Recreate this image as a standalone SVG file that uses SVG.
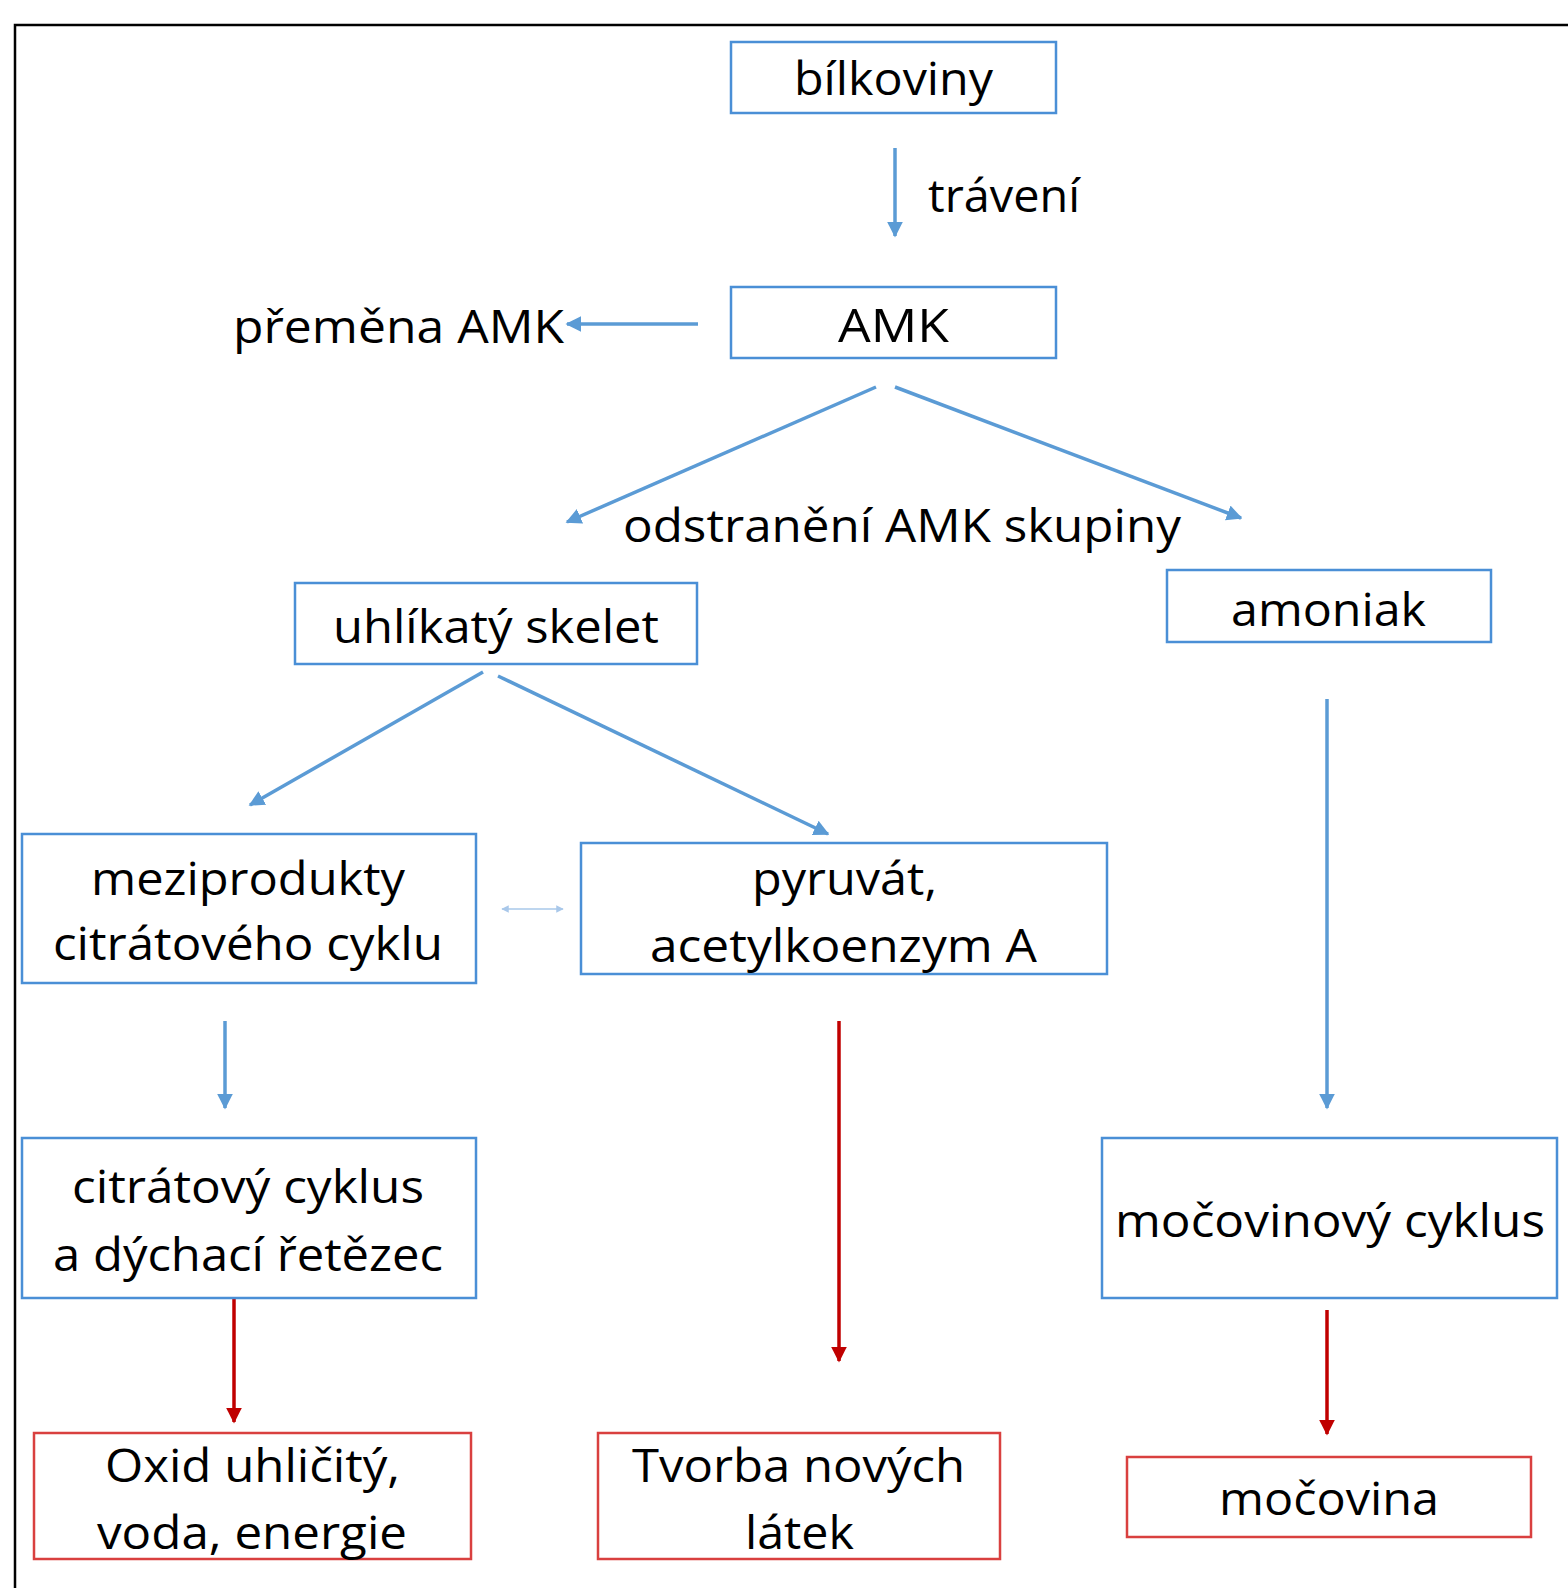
<svg xmlns="http://www.w3.org/2000/svg" width="1568" height="1588" viewBox="0 0 1568 1588">
<style>
.frame{fill:none;stroke:#000;stroke-width:2.5}
.bb{fill:#fff;stroke:#4A8FD6;stroke-width:2.5}
.rb{fill:#fff;stroke:#D9403F;stroke-width:2.5}
text{font-family:"Open Sans","Liberation Sans",sans-serif;font-size:46px;fill:#000}
.ba{stroke:#5B9BD5;stroke-width:3.5;fill:none;marker-end:url(#ab)}
.ra{stroke:#C00000;stroke-width:3.5;fill:none;marker-end:url(#ar)}
</style>
<defs>
<marker id="ab" viewBox="0 0 10 10" refX="9" refY="5" markerWidth="4.5" markerHeight="4.5" orient="auto" markerUnits="strokeWidth"><path d="M0,0 L10,5 L0,10 z" fill="#5B9BD5"/></marker>
<marker id="ar" viewBox="0 0 10 10" refX="9" refY="5" markerWidth="4.5" markerHeight="4.5" orient="auto" markerUnits="strokeWidth"><path d="M0,0 L10,5 L0,10 z" fill="#C00000"/></marker>
<marker id="as" viewBox="0 0 10 10" refX="9" refY="5" markerWidth="5" markerHeight="5" orient="auto-start-reverse" markerUnits="strokeWidth"><path d="M0,0 L10,5 L0,10 z" fill="#A9C8EA"/></marker>
</defs>
<rect width="1568" height="1588" fill="#fff"/>
<path class="frame" d="M15,1588 V25 H1568"/>

<g id="connectors">
<line class="ba" x1="895" y1="148" x2="895" y2="236"/>
<line class="ba" x1="698" y1="324" x2="567" y2="324"/>
<line class="ba" x1="876" y1="387" x2="567" y2="522"/>
<line class="ba" x1="895" y1="387" x2="1241" y2="518"/>
<line class="ba" x1="483" y1="672" x2="250" y2="805"/>
<line class="ba" x1="498" y1="676" x2="828" y2="834"/>
<line class="ba" x1="1327" y1="699" x2="1327" y2="1108"/>
<line x1="502" y1="909" x2="563" y2="909" stroke="#A9C8EA" stroke-width="1.5" marker-start="url(#as)" marker-end="url(#as)"/>
<line class="ba" x1="225" y1="1021" x2="225" y2="1108"/>
<line class="ra" x1="234" y1="1298" x2="234" y2="1422"/>
<line class="ra" x1="839" y1="1021" x2="839" y2="1361"/>
<line class="ra" x1="1327" y1="1310" x2="1327" y2="1434"/>
</g>

<text x="928" y="212" textLength="152" lengthAdjust="spacingAndGlyphs">trávení</text>
<text x="233" y="343" textLength="331" lengthAdjust="spacingAndGlyphs">přeměna AMK</text>
<text x="623" y="542" textLength="558" lengthAdjust="spacingAndGlyphs">odstranění AMK skupiny</text>

<g id="bilkoviny"><rect class="bb" x="731" y="42" width="325" height="71"/>
<text x="794" y="95" textLength="199" lengthAdjust="spacingAndGlyphs">bílkoviny</text></g>

<g id="amk"><rect class="bb" x="731" y="287" width="325" height="71"/>
<text x="838" y="342" textLength="111" lengthAdjust="spacingAndGlyphs">AMK</text></g>

<g id="uhlikaty"><rect class="bb" x="295" y="583" width="402" height="81"/>
<text x="333" y="643" textLength="326" lengthAdjust="spacingAndGlyphs">uhlíkatý skelet</text></g>

<g id="amoniak"><rect class="bb" x="1167" y="570" width="324" height="72"/>
<text x="1231" y="626" textLength="195" lengthAdjust="spacingAndGlyphs">amoniak</text></g>

<g id="meziprodukty"><rect class="bb" x="22" y="834" width="454" height="149"/>
<text x="91" y="895" textLength="314" lengthAdjust="spacingAndGlyphs">meziprodukty</text>
<text x="53" y="960" textLength="390" lengthAdjust="spacingAndGlyphs">citrátového cyklu</text></g>

<g id="pyruvat"><rect class="bb" x="581" y="843" width="526" height="131"/>
<text x="752" y="895" textLength="185" lengthAdjust="spacingAndGlyphs">pyruvát,</text>
<text x="650" y="962" textLength="387" lengthAdjust="spacingAndGlyphs">acetylkoenzym A</text></g>

<g id="citratovy"><rect class="bb" x="22" y="1138" width="454" height="160"/>
<text x="72" y="1203" textLength="352" lengthAdjust="spacingAndGlyphs">citrátový cyklus</text>
<text x="53" y="1271" textLength="390" lengthAdjust="spacingAndGlyphs">a dýchací řetězec</text></g>

<g id="mocovinovy"><rect class="bb" x="1102" y="1138" width="455" height="160"/>
<text x="1115" y="1237" textLength="430" lengthAdjust="spacingAndGlyphs">močovinový cyklus</text></g>

<g id="oxid"><rect class="rb" x="34" y="1433" width="437" height="126"/>
<text x="105" y="1482" textLength="295" lengthAdjust="spacingAndGlyphs">Oxid uhličitý,</text>
<text x="97" y="1549" textLength="310" lengthAdjust="spacingAndGlyphs">voda, energie</text></g>

<g id="tvorba"><rect class="rb" x="598" y="1433" width="402" height="126"/>
<text x="632" y="1482" textLength="333" lengthAdjust="spacingAndGlyphs">Tvorba nových</text>
<text x="745" y="1549" textLength="109" lengthAdjust="spacingAndGlyphs">látek</text></g>

<g id="mocovina"><rect class="rb" x="1127" y="1457" width="404" height="80"/>
<text x="1219" y="1515" textLength="220" lengthAdjust="spacingAndGlyphs">močovina</text></g>
</svg>
